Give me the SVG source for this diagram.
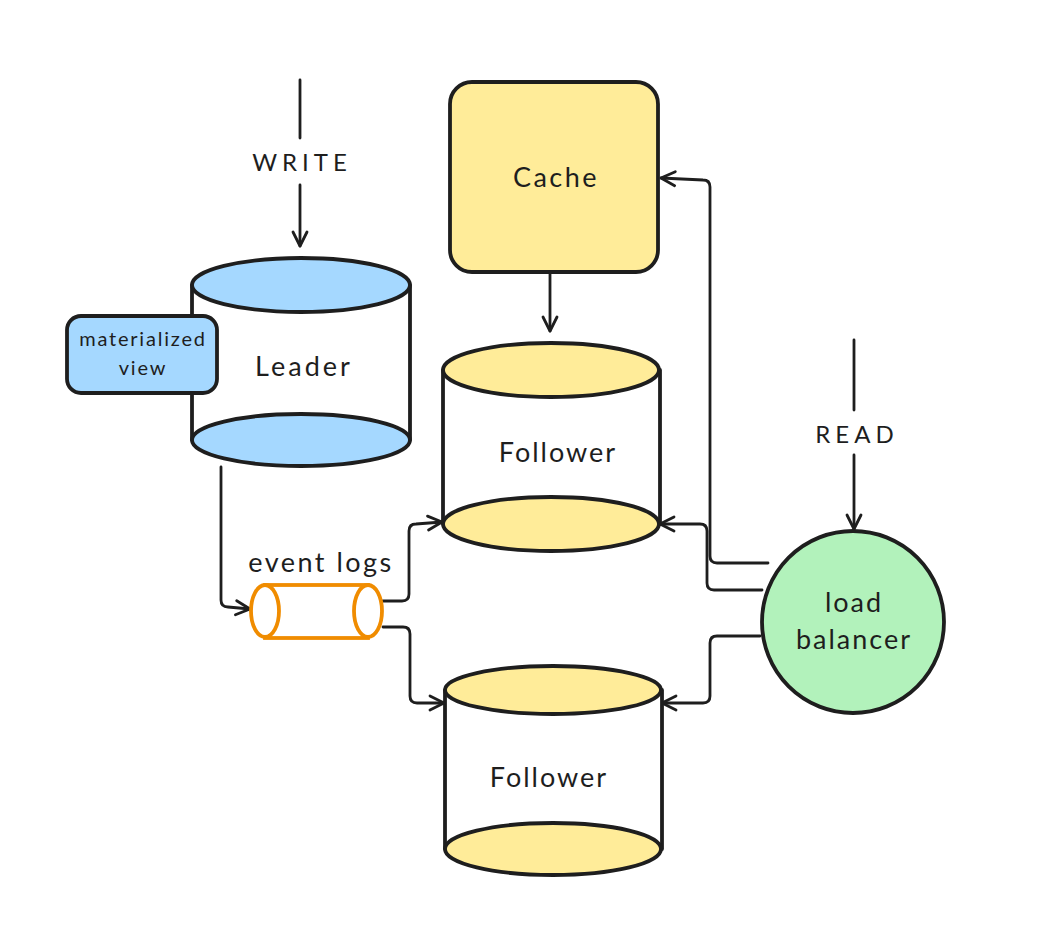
<svg xmlns="http://www.w3.org/2000/svg" width="1040" height="944" viewBox="0 0 1040 944">
<style>
.s{stroke:#1e1e1e;stroke-width:3.8;stroke-linejoin:round;stroke-linecap:round}
.c{fill:none;stroke:#1e1e1e;stroke-width:2.8;stroke-linecap:round;stroke-linejoin:round}
.t{font-family:"Lato","Liberation Sans",sans-serif;fill:#1e1e1e;text-anchor:middle;font-size:27px;letter-spacing:1.5px}
.blue{fill:#a5d8ff}
.yel{fill:#ffec99}
</style>
<defs>
<marker id="ah" viewBox="0 0 20 20" refX="18" refY="10" markerWidth="20" markerHeight="20" markerUnits="userSpaceOnUse" orient="auto">
<path d="M4 3 L18 10 L4 17" fill="none" stroke="#1e1e1e" stroke-width="2.8" stroke-linecap="round" stroke-linejoin="round"/>
</marker>
</defs>
<rect width="1040" height="944" fill="#ffffff"/>

<g id="connectors">
<line class="c" x1="300" y1="80" x2="300" y2="138"/>
<line class="c" x1="300" y1="185" x2="300" y2="246" marker-end="url(#ah)"/>
<line class="c" x1="854" y1="340" x2="854" y2="410"/>
<line class="c" x1="854" y1="455" x2="854" y2="529" marker-end="url(#ah)"/>
<line class="c" x1="550" y1="273" x2="550" y2="331" marker-end="url(#ah)"/>
<path class="c" d="M221 467 L221 600 Q221 607 228 607 L250 609" marker-end="url(#ah)"/>
<path class="c" d="M383 601 L402 601 Q409 601 409 594 L409 531 Q409 524 416 524 L442 522" marker-end="url(#ah)"/>
<path class="c" d="M383 627 L403 627 Q410 627 410 634 L410 696 Q410 703 417 703 L444 703" marker-end="url(#ah)"/>
<path class="c" d="M768 563 L717 563 Q710 563 710 556 L710 187 Q710 180 703 180 L661 178" marker-end="url(#ah)"/>
<path class="c" d="M762 590 L714 590 Q707 590 707 583 L707 531 Q707 524 700 524 L660 524" marker-end="url(#ah)"/>
<path class="c" d="M760 636 L717 636 Q710 636 710 643 L710 696 Q710 703 703 703 L662 703" marker-end="url(#ah)"/>
</g>

<g id="write-label"><text class="t" x="302" y="171" style="font-size:24px;letter-spacing:5px">WRITE</text></g>
<g id="read-label"><text class="t" x="857" y="443" style="font-size:24px;letter-spacing:5px">READ</text></g>

<g id="leader">
<rect x="192" y="285" width="218" height="155" fill="#ffffff"/>
<line class="s" x1="192" y1="285" x2="192" y2="440"/>
<line class="s" x1="410" y1="285" x2="410" y2="440"/>
<ellipse class="s blue" cx="301" cy="440" rx="109" ry="26"/>
<ellipse class="s blue" cx="301" cy="285" rx="109" ry="27"/>
<text class="t" x="304" y="376" style="letter-spacing:3px">Leader</text>
</g>

<g id="materialized-view">
<rect class="s blue" x="67" y="316" width="150" height="77" rx="14"/>
<text class="t" x="143" y="346" style="font-size:20px;letter-spacing:1.8px">materialized</text>
<text class="t" x="143" y="375" style="font-size:20px;letter-spacing:1.8px">view</text>
</g>

<g id="cache">
<rect class="s yel" x="450" y="82" width="208" height="190" rx="22"/>
<text class="t" x="556" y="187" style="letter-spacing:2.5px">Cache</text>
</g>

<g id="follower1">
<rect x="443" y="370" width="217" height="154" fill="#ffffff"/>
<line class="s" x1="443" y1="370" x2="443" y2="524"/>
<line class="s" x1="660" y1="370" x2="660" y2="524"/>
<ellipse class="s yel" cx="551" cy="524" rx="108" ry="27"/>
<ellipse class="s yel" cx="551" cy="370" rx="108" ry="27"/>
<text class="t" x="558" y="462" style="letter-spacing:2px">Follower</text>
</g>

<g id="follower2">
<rect x="445" y="690" width="217" height="159" fill="#ffffff"/>
<line class="s" x1="445" y1="690" x2="445" y2="849"/>
<line class="s" x1="662" y1="690" x2="662" y2="849"/>
<ellipse class="s yel" cx="553" cy="849" rx="108" ry="26"/>
<ellipse class="s yel" cx="553" cy="690" rx="108" ry="24"/>
<text class="t" x="549" y="787" style="letter-spacing:2px">Follower</text>
</g>

<g id="event-logs">
<rect x="265" y="585" width="103" height="53" fill="#ffffff" stroke="#f08c00" stroke-width="3.8"/>
<ellipse cx="265" cy="611" rx="14" ry="26" fill="#ffffff" stroke="#f08c00" stroke-width="3.8"/>
<ellipse cx="368" cy="611" rx="14" ry="26" fill="#ffffff" stroke="#f08c00" stroke-width="3.8"/>
<text class="t" x="321" y="572" style="letter-spacing:2.5px">event logs</text>
</g>

<g id="load-balancer">
<circle class="s" cx="853" cy="622" r="91" fill="#b2f2bb"/>
<text class="t" x="854" y="612" style="letter-spacing:2px">load</text>
<text class="t" x="854" y="649" style="letter-spacing:2px">balancer</text>
</g>
</svg>
